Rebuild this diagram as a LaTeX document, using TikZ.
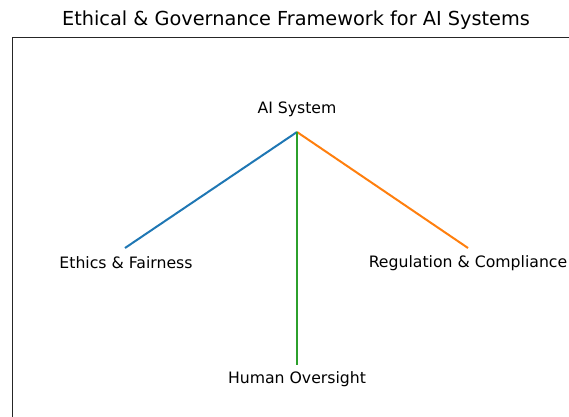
\documentclass[tikz,border=0pt]{standalone}
\usepackage{fontspec}
\setmainfont{DejaVu Sans}
\usepackage{tikz}
\usetikzlibrary{positioning}
\definecolor{tabblue}{HTML}{1F77B4}
\definecolor{taborange}{HTML}{FF7F0E}
\definecolor{tabgreen}{HTML}{2CA02C}

\begin{document}
\begin{tikzpicture}[x=1pt, y=-1pt]
\useasboundingbox (0,0) rectangle (569,416);
\clip (0,0) rectangle (569,416);
%
\draw[line width=1pt, color=black!85] (12,430) -- (12,37) -- (580,37);
\node(title) at (296,20.5) {\fontsize{19.3}{22}\selectfont Ethical \& Governance Framework for AI Systems};

%
\coordinate(ai) at (297,132);
\coordinate(ethics) at (125,248);
\coordinate(regulation) at (468,248);
\coordinate(oversight) at (297,365);

%
\draw[line width=2pt, color=tabblue] (ai) -- (ethics);
\draw[line width=2pt, color=taborange] (ai) -- (regulation);
\draw[line width=2pt, color=tabgreen] (ai) -- (oversight);

%
\node(ai_text) at (297,109) {\fontsize{15.7}{18}\selectfont AI System};
\node(ethics_text) at (126,263) {\fontsize{15.7}{18}\selectfont Ethics \& Fairness};
\node(regulation_text) at (468,263) {\fontsize{15.7}{18}\selectfont Regulation \& Compliance};
\node(oversight_text) at (297,379) {\fontsize{15.7}{18}\selectfont Human Oversight};

\end{tikzpicture}
\end{document}
